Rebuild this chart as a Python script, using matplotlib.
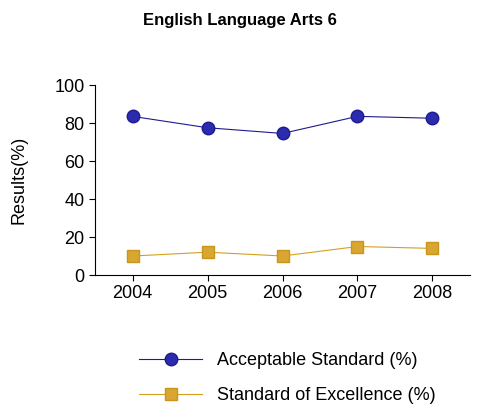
import matplotlib
matplotlib.use("Agg")
import matplotlib.pyplot as plt

years = ["2004", "2005", "2006", "2007", "2008"]
acceptable = [83.5, 77.5, 74.5, 83.5, 82.5]
excellence = [10, 12, 10, 15, 14]

plt.rcParams['font.family'] = ['Liberation Sans', 'DejaVu Sans']
fig = plt.figure(figsize=(4.79, 4.11), dpi=100)
ax = fig.add_axes([95/479, 1-275/411, 375/479, 190/411])
x = range(len(years))
ax.plot(x, acceptable, color='#1f1a8f', lw=0.8, marker='o', ms=9,
        markerfacecolor='#2b2bb0', markeredgecolor='#1f1a8f', label='Acceptable Standard (%)')
ax.plot(x, excellence, color='#d4a020', lw=0.8, marker='s', ms=8,
        markerfacecolor='#d9a631', markeredgecolor='#c8961c', label='Standard of Excellence (%)')
ax.set_xlim(-0.5, 4.5)
ax.set_ylim(0, 100)
ax.set_yticks(range(0, 101, 20))
ax.set_xticks(list(x))
ax.set_xticklabels(years)
ax.tick_params(labelsize=13, direction='out', length=4)
for s in ['top', 'right']:
    ax.spines[s].set_visible(False)
ax.set_ylabel('Results(%)', fontsize=13)
ax.yaxis.set_label_coords(-0.18, 0.5)
fig.text(0.5, 1-20/411, 'English Language Arts 6', ha='center', va='center',
         fontsize=12, fontweight='bold')
fig.legend(loc='center', bbox_to_anchor=(0.6, 1-378/411), frameon=False,
           fontsize=13, handlelength=3.5, labelspacing=1.0)
fig.savefig('out.png', dpi=100)
